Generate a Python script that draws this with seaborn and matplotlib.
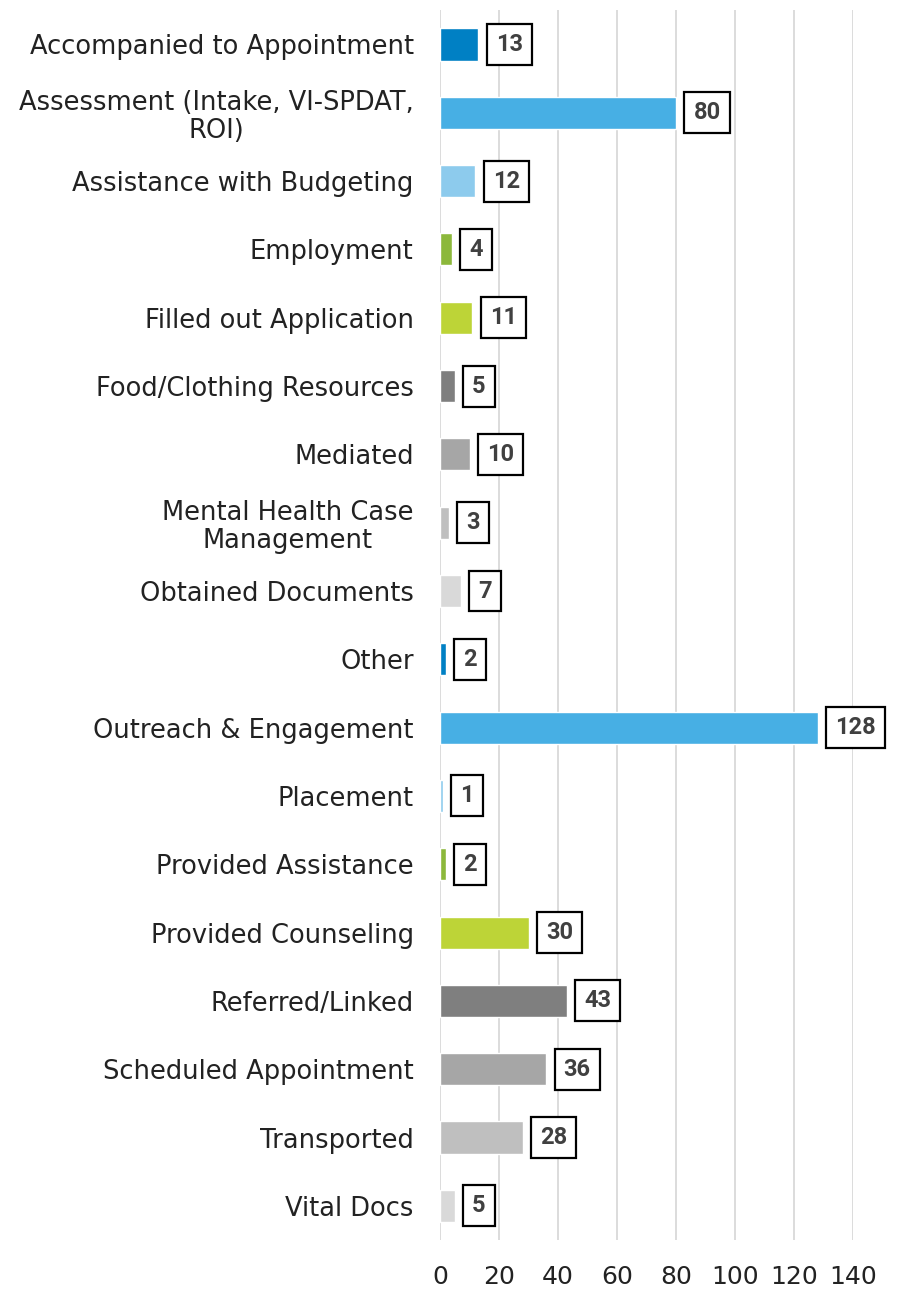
import pandas as pd
import matplotlib.pyplot as plt
import seaborn as sns

categories = [
    "Accompanied to Appointment",
    "Assessment (Intake, VI-SPDAT,\nROI)",
    "Assistance with Budgeting",
    "Employment",
    "Filled out Application",
    "Food/Clothing Resources",
    "Mediated",
    "Mental Health Case\nManagement",
    "Obtained Documents",
    "Other",
    "Outreach & Engagement",
    "Placement",
    "Provided Assistance",
    "Provided Counseling",
    "Referred/Linked",
    "Scheduled Appointment",
    "Transported",
    "Vital Docs",
]
counts = [13, 80, 12, 4, 11, 5, 10, 3, 7, 2, 128, 1, 2, 30, 43, 36, 28, 5]
base_colors = ["#0080C4", "#47AFE4", "#8DCBED", "#8CB83B", "#BDD437",
               "#7F7F7F", "#A6A6A6", "#BFBFBF", "#D9D9D9"]
colors = [base_colors[i % len(base_colors)] for i in range(len(categories))]

df = pd.DataFrame({"category": categories, "count": counts})

sns.set_style("white")
plt.rcParams["font.family"] = ["DejaVu Sans"]

fig = plt.figure(figsize=(8.98, 12.89), dpi=100)
ax = fig.add_axes([0.49, 0.038, 0.46, 0.954])
sns.barplot(data=df, x="count", y="category", hue="category", palette=colors,
            orient="h", width=0.47, saturation=1, legend=False, ax=ax)

ax.set_xlim(0, 140)
ax.set_xticks(range(0, 141, 20))
ax.grid(axis="x", color="#D9D9D9", linewidth=1.3)
ax.set_axisbelow(True)
for s in ax.spines.values():
    s.set_visible(False)
ax.tick_params(length=0)
ax.tick_params(axis="y", labelsize=18.5, pad=19, colors="#222222")
ax.tick_params(axis="x", labelsize=18, pad=18, colors="#222222")
for t in ax.get_yticklabels():
    t.set_multialignment("center")
    t.set_linespacing(1.1)
ax.set_xlabel("")
ax.set_ylabel("")

for i, v in enumerate(counts):
    ax.annotate(str(v), xy=(v, i), xytext=(12.5, 0), textcoords="offset points",
                ha="left", va="center", fontsize=17, fontweight="bold",
                color="#404040", family=["Roboto", "DejaVu Sans"],
                bbox=dict(boxstyle="square,pad=0.38", fc="white", ec="black", lw=1.6))

fig.savefig("out.png", dpi=100)
